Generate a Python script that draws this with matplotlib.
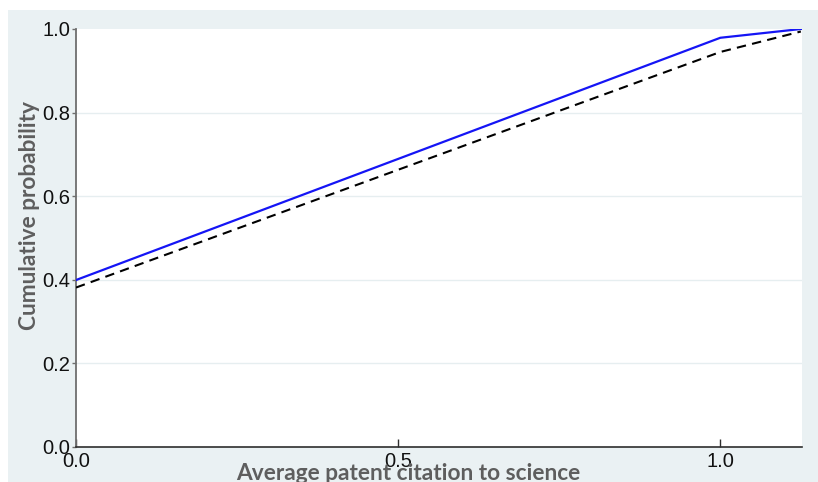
import matplotlib
matplotlib.use("Agg")
import matplotlib.pyplot as plt
from matplotlib.patches import Rectangle

plt.rcParams["font.family"] = ["Liberation Sans", "DejaVu Sans"]

# Cumulative distribution of average patent citation to science
citation = [0.0, 1.0, 1.125]
cum_solid = [0.399, 0.979, 1.0]
cum_dashed = [0.381, 0.945, 0.994]

xticks = [0.0, 0.5, 1.0]
xtick_labels = ["0.0", "0.5", "1.0"]
yticks = [0.0, 0.2, 0.4, 0.6, 0.8, 1.0]
ytick_labels = ["0.0", "0.2", "0.4", "0.6", "0.8", "1.0"]

W, H = 818, 482
fig = plt.figure(figsize=(W / 100, H / 100), dpi=100, facecolor="white")

panel_bg = "#EAF1F3"
fig.patches.append(Rectangle((8 / W, 0), 1 - 8 / W, (H - 10) / H,
                             transform=fig.transFigure, facecolor=panel_bg,
                             edgecolor="none", zorder=-10))

ax = fig.add_axes([76 / W, (H - 446.7) / H, (801.5 - 76) / W, (446.7 - 29) / H])
ax.set_zorder(1)
ax.set_facecolor("white")

for y in [0.2, 0.4, 0.6, 0.8]:
    ax.axhline(y, color="#E6EEF0", lw=1.0, zorder=1)

ax.plot(citation, cum_solid, color="#1515F5", lw=1.6, zorder=3)
ax.plot(citation, cum_dashed, color="black", lw=1.5, dashes=(4.5, 3.0), zorder=3)

ax.set_xlim(0, 1.126)
ax.set_ylim(0, 1.0)

for s in ["top", "right"]:
    ax.spines[s].set_visible(False)
ax.spines["left"].set_color("#6E6E6E")
ax.spines["left"].set_linewidth(1.3)
ax.spines["bottom"].set_color("#2E2E2E")
ax.spines["bottom"].set_linewidth(1.2)

ax.set_xticks(xticks, xtick_labels)
ax.set_yticks(yticks, ytick_labels)

ax.tick_params(axis="x", direction="in", length=6, width=1.0, color="#2E2E2E",
               pad=4, labelsize=14.5, labelcolor="#111111")
ax.tick_params(axis="y", direction="out", length=3, width=1.0, color="#6E6E6E",
               pad=1, labelsize=14.5, labelcolor="#111111")

label_style = dict(family="Lato", weight="bold", size=16.3, color="#5E5E5E")
fig.text(408 / W, (H - 480) / H, "Average patent citation to science",
         ha="center", va="baseline", **label_style)
fig.text(30 / W, (H - 216) / H, "Cumulative probability",
         ha="center", va="center", rotation=90, **label_style)

fig.savefig("out.png", dpi=100, facecolor="white")
